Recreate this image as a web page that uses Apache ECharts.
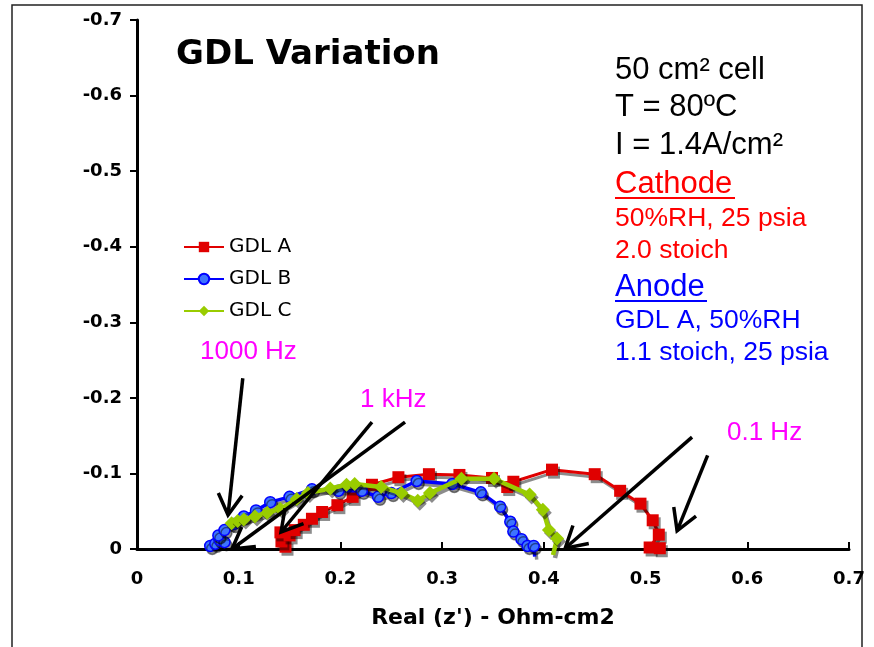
<!DOCTYPE html>
<html>
<head>
<meta charset="utf-8">
<script src="https://cdn.jsdelivr.net/npm/echarts@6/dist/echarts.min.js"></script>
<style>html,body{margin:0;padding:0;background:#fff;}#c{width:874px;height:647px;}</style>
</head>
<body>
<div id="c"></div>
<script>
// ---- data (Real z', Imag z'' in Ohm-cm2) ----
const seriesNames = ['GDL A', 'GDL B', 'GDL C'];
const gdlA = [[0.146,-0.003],[0.142,-0.010],[0.141,-0.022],[0.150,-0.018],[0.155,-0.025],[0.164,-0.032],[0.172,-0.040],[0.182,-0.049],[0.197,-0.058],[0.212,-0.069],[0.231,-0.085],[0.257,-0.095],[0.287,-0.099],[0.317,-0.098],[0.349,-0.094],[0.364,-0.082],[0.370,-0.089],[0.408,-0.105],[0.450,-0.099],[0.475,-0.077],[0.495,-0.060],[0.507,-0.038],[0.513,-0.019],[0.504,-0.002],[0.514,-0.001],[0.517,0.001]];
const gdlB = [[0.072,-0.004],[0.077,-0.007],[0.081,-0.012],[0.086,-0.009],[0.080,-0.018],[0.086,-0.025],[0.095,-0.033],[0.105,-0.043],[0.117,-0.051],[0.131,-0.062],[0.150,-0.069],[0.172,-0.079],[0.198,-0.077],[0.221,-0.077],[0.237,-0.069],[0.250,-0.074],[0.275,-0.090],[0.310,-0.086],[0.338,-0.075],[0.357,-0.056],[0.367,-0.036],[0.370,-0.023],[0.378,-0.013],[0.384,-0.004],[0.390,-0.004],[0.391,0.010]];
const gdlC = [[0.093,-0.034],[0.099,-0.037],[0.105,-0.039],[0.116,-0.043],[0.128,-0.048],[0.141,-0.053],[0.157,-0.066],[0.168,-0.074],[0.190,-0.080],[0.206,-0.085],[0.214,-0.086],[0.240,-0.082],[0.260,-0.074],[0.276,-0.064],[0.288,-0.074],[0.319,-0.093],[0.351,-0.093],[0.386,-0.072],[0.399,-0.052],[0.405,-0.025],[0.413,-0.014],[0.409,0.008]];
// arrows: [x1, y1, x2(head), y2(head)]
const arrows = [[0.104,-0.226,0.0895,-0.045],[0.231,-0.168,0.1416,-0.0225],[0.2635,-0.168,0.0934,0.0],[0.5457,-0.148,0.421,-0.001],[0.561,-0.124,0.531,-0.024]];
const xTicks = [0,0.1,0.2,0.3,0.4,0.5,0.6,0.7];
const yTicks = [-0.7,-0.6,-0.5,-0.4,-0.3,-0.2,-0.1,0];

const chart = echarts.init(document.getElementById('c'), null, {renderer:'canvas'});
const shadow = {shadowColor:'rgba(0,0,0,0.45)', shadowOffsetX:2, shadowOffsetY:3, shadowBlur:0};
function items(arr){ return arr.map(p => p[1] > 0 ? {value:p, symbol:'none'} : {value:p}); }
function fmt(v){ const r = Math.round(v*10)/10; return r === 0 ? '0' : r.toFixed(1); }

const axisFont = {fontFamily:'DejaVu Sans', fontWeight:'bold', fontSize:18, color:'#000'};
const W = 'Liberation Sans';
function txt(x, y, text, size, color){
  return {type:'text', x:x, y:y, z:50, style:{text:text, font: size+'px "'+W+'"', fill:color, textVerticalAlign:'middle'}};
}
const option = {
  animation:false,
  backgroundColor:'#fff',
  grid:{left:137, top:20, right:25, bottom:98},
  xAxis:{type:'value', min:0, max:0.7, interval:0.1,
    name:"Real (z') - Ohm-cm2", nameLocation:'middle', nameGap:58,
    nameTextStyle:{fontFamily:'DejaVu Sans', fontWeight:'bold', fontSize:22, color:'#000'},
    axisLine:{onZero:false, lineStyle:{color:'#000', width:3}},
    axisTick:{inside:true, length:7, lineStyle:{color:'#000', width:2}},
    axisLabel:Object.assign({margin:21, formatter:fmt}, axisFont),
    splitLine:{show:false}},
  yAxis:{type:'value', min:-0.7, max:0, interval:0.1, inverse:true,
    axisLine:{onZero:false, lineStyle:{color:'#000', width:3}},
    axisTick:{inside:false, length:7, lineStyle:{color:'#000', width:2}},
    axisLabel:Object.assign({margin:15, formatter:fmt}, axisFont),
    splitLine:{show:false}},
  legend:{data:seriesNames, orient:'vertical', left:178, top:232, itemWidth:40, itemHeight:13, itemGap:12,
    textStyle:{fontFamily:'DejaVu Sans', fontSize:20, color:'#000'}},
  series:[
    {name:'GDL A', type:'line', data:items(gdlA), clip:false, symbol:'rect', symbolSize:12,
      lineStyle:Object.assign({color:'#E00000', width:3}, shadow),
      itemStyle:Object.assign({color:'#E00000'}, shadow), z:3},
    {name:'GDL B', type:'line', data:items(gdlB), clip:false, symbol:'circle', symbolSize:11,
      lineStyle:Object.assign({color:'#0000FF', width:3.5}, shadow),
      itemStyle:Object.assign({color:'#3D73FF', borderColor:'#0000FF', borderWidth:1.5}, shadow), z:4},
    {name:'GDL C', type:'line', data:items(gdlC), clip:false, symbol:'diamond', symbolSize:14,
      lineStyle:Object.assign({color:'#99CC00', width:4.5}, shadow),
      itemStyle:Object.assign({color:'#99CC00'}, shadow), z:5},
    {name:'arrows', type:'custom', data:arrows, clip:false, silent:true, z:20,
      encode:{x:[0,2], y:[1,3]},
      renderItem:function(params, api){
        const p1 = api.coord([api.value(0), api.value(1)]);
        const p2 = api.coord([api.value(2), api.value(3)]);
        const ang = Math.atan2(p2[1]-p1[1], p2[0]-p1[0]);
        const L = 24, a = Math.PI/6;
        const h1 = [p2[0]-L*Math.cos(ang-a), p2[1]-L*Math.sin(ang-a)];
        const h2 = [p2[0]-L*Math.cos(ang+a), p2[1]-L*Math.sin(ang+a)];
        return {type:'group', children:[
          {type:'line', shape:{x1:p1[0], y1:p1[1], x2:p2[0], y2:p2[1]}, style:{stroke:'#000', lineWidth:3.5}},
          {type:'polyline', shape:{points:[h1, p2, h2]}, style:{stroke:'#000', lineWidth:3.5, fill:null}}
        ]};
      }}
  ],
  graphic:[
    {type:'rect', shape:{x:12, y:5, width:850, height:700}, style:{fill:null, stroke:'#222', lineWidth:1.5}, z:0, silent:true},
    {type:'text', x:176, y:55, z:50, style:{text:'GDL Variation', font:'bold 34px "DejaVu Sans"', fill:'#000', textVerticalAlign:'middle'}},
    txt(615, 70, '50 cm² cell', 31, '#000'),
    txt(615, 107, 'T = 80ºC', 31, '#000'),
    txt(615, 145, 'I = 1.4A/cm²', 31, '#000'),
    txt(615, 184, 'Cathode', 31, '#FF0000'),
    {type:'line', shape:{x1:615, y1:198, x2:735, y2:198}, style:{stroke:'#FF0000', lineWidth:2}, z:50},
    txt(615, 219, '50%RH, 25 psia', 26.5, '#FF0000'),
    txt(615, 251, '2.0 stoich', 26.5, '#FF0000'),
    txt(615, 287, 'Anode', 31, '#0000FF'),
    {type:'line', shape:{x1:615, y1:301, x2:707, y2:301}, style:{stroke:'#0000FF', lineWidth:2}, z:50},
    txt(615, 321, 'GDL A, 50%RH', 26.5, '#0000FF'),
    txt(615, 353, '1.1 stoich, 25 psia', 26.5, '#0000FF'),
    txt(200, 352, '1000 Hz', 26, '#FF00FF'),
    txt(360, 400, '1 kHz', 26, '#FF00FF'),
    txt(727, 433, '0.1 Hz', 26, '#FF00FF')
  ]
};
chart.setOption(option);
</script>
</body>
</html>
